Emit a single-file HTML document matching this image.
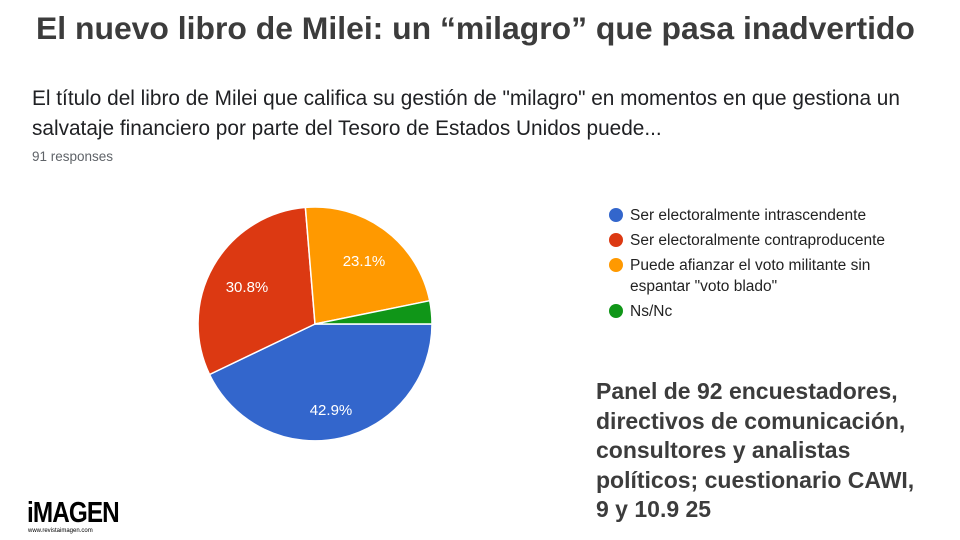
<!DOCTYPE html>
<html><head><meta charset="utf-8"><style>
body{margin:0;width:960px;height:540px;background:#fff;font-family:"Liberation Sans",sans-serif;position:relative;overflow:hidden}
.t{position:absolute;white-space:nowrap}
</style></head><body>
<div class="t" style="left:36px;top:10px;font-size:31.9px;font-weight:bold;color:#3c3c3c">El nuevo libro de Milei: un “milagro” que pasa inadvertido</div>
<div class="t" style="left:32px;top:84px;font-size:20.8px;color:#202124;line-height:30px">El título del libro de Milei que califica su gestión de "milagro" en momentos en que gestiona un<br>salvataje financiero por parte del Tesoro de Estados Unidos puede...</div>
<div class="t" style="left:32px;top:149px;font-size:13.5px;color:#5f6368">91 responses</div>
<svg width="960" height="540" style="position:absolute;left:0;top:0">
<g stroke="#fff" stroke-width="1.5">
<path d="M315,324 L432,324 A117,117 0 0 1 209.5,374.5 Z" fill="#3366cc"/>
<path d="M315,324 L209.5,374.5 A117,117 0 0 1 305.4,207.4 Z" fill="#dc3912"/>
<path d="M315,324 L305.4,207.4 A117,117 0 0 1 429.7,300.7 Z" fill="#ff9900"/>
<path d="M315,324 L429.7,300.7 A117,117 0 0 1 432,324 Z" fill="#109618"/>
</g>
<g fill="#fff" font-size="15" font-family="Liberation Sans" text-anchor="middle">
<text x="331" y="415">42.9%</text><text x="247" y="292">30.8%</text><text x="364" y="266">23.1%</text>
</g>
<g font-size="15.5" font-family="Liberation Sans" fill="#222">
<circle cx="616" cy="215" r="7" fill="#3366cc"/><text x="630" y="220">Ser electoralmente intrascendente</text>
<circle cx="616" cy="240" r="7" fill="#dc3912"/><text x="630" y="245">Ser electoralmente contraproducente</text>
<circle cx="616" cy="265" r="7" fill="#ff9900"/><text x="630" y="270">Puede afianzar el voto militante sin</text><text x="630" y="291">espantar "voto blado"</text>
<circle cx="616" cy="311" r="7" fill="#109618"/><text x="630" y="316">Ns/Nc</text>
</g>
</svg>
<div class="t" style="left:596px;top:377px;font-size:23px;font-weight:bold;color:#3c3c3c;line-height:29.5px">Panel de 92 encuestadores,<br>directivos de comunicación,<br>consultores y analistas<br>políticos; cuestionario CAWI,<br>9 y 10.9 25</div>
<div class="t" style="left:27px;top:497px;font-size:27px;font-weight:bold;color:#000;letter-spacing:-1px;transform:scale(0.9,1.05);transform-origin:left top">iMAGEN</div>
<div class="t" style="left:28px;top:528px;font-size:6px;color:#000">www.revistaimagen.com</div>
</body></html>
